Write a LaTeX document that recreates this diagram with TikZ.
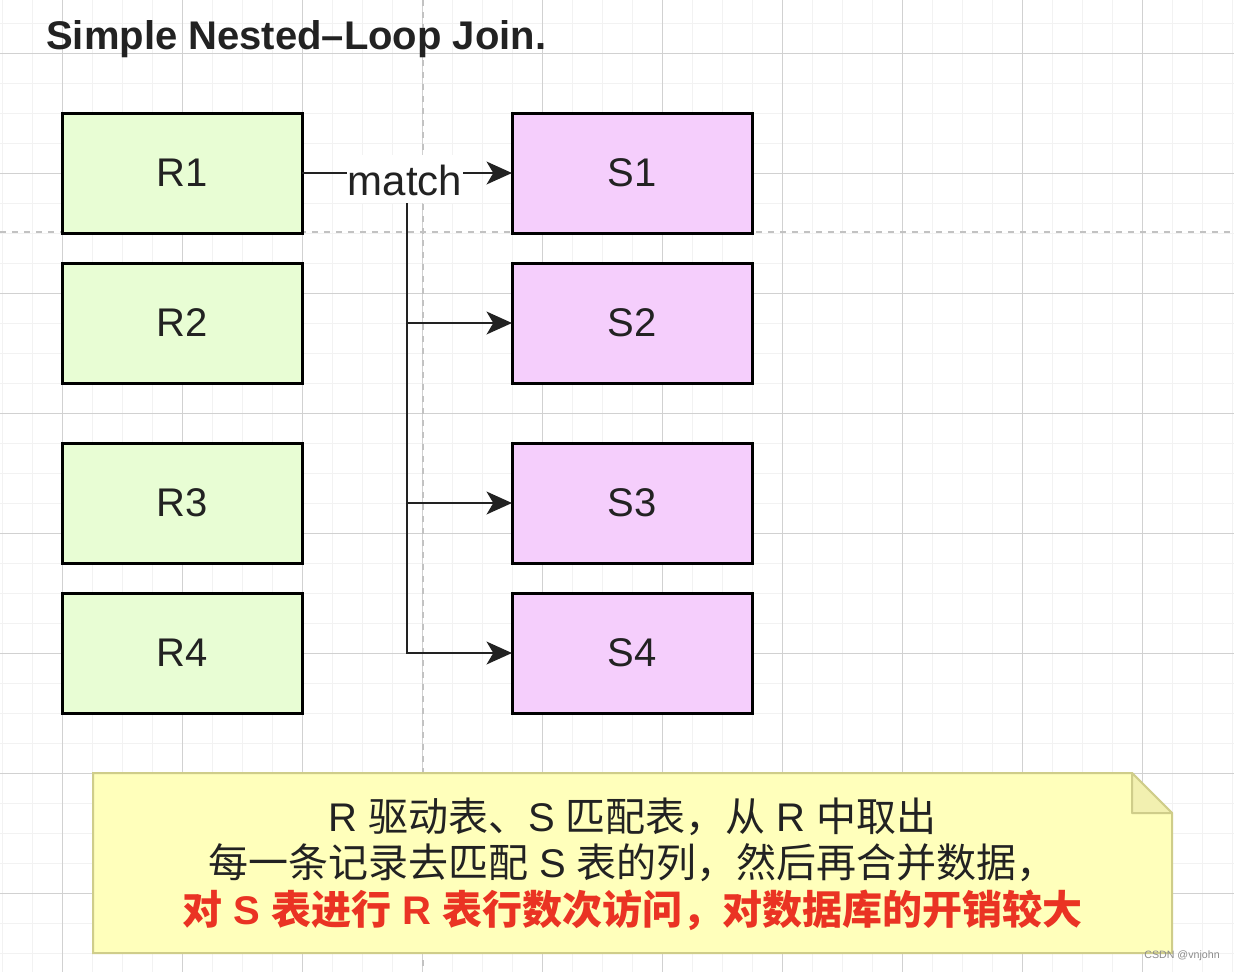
\documentclass[tikz,border=0pt]{standalone}
\usepackage{fontspec}
\setmainfont{Liberation Sans}
\newfontfamily\cjk{Noto Sans CJK SC}
\usepackage{tikz}
\usetikzlibrary{positioning, calc, arrows.meta}

\definecolor{ink}{HTML}{222222}
\definecolor{rfill}{HTML}{E8FDD4}
\definecolor{sfill}{HTML}{F5CEFC}
\definecolor{notefill}{HTML}{FFFFBB}
\definecolor{noteline}{HTML}{CFCD8A}
\definecolor{notefoldfill}{HTML}{F2F0B0}
\definecolor{notered}{HTML}{EA3323}

\begin{document}
\begin{tikzpicture}[
  x=0.75pt, y=-0.75pt,
  font=\fontsize{30}{36}\selectfont,
  gridMinor/.style={draw=black!5, line width=0.75pt},
  gridMajor/.style={draw=black!18, line width=0.75pt},
  pageBreak/.style={draw=black!24, line width=1.1pt, dash pattern=on 4.5pt off 4.5pt},
  table/.style={
    draw=black,
    line width=2.25pt,
    minimum width=180pt,
    minimum height=90pt,
    outer sep=0pt,
    text=ink,
  },
  rtable/.style={table, fill=rfill},
  stable/.style={table, fill=sfill},
  link/.style={draw=ink, line width=2.2pt, -{Stealth[length=19pt, width=17pt, inset=5pt]}},
  linkLabel/.style={fill=white, text=ink, inner xsep=0.5pt, inner ysep=0pt, text height=30pt, text depth=6pt,
    font=\fontsize{31.5}{36}\selectfont},
  notebox/.style={minimum width=809.25pt, minimum height=135pt, inner sep=0pt, outer sep=0pt},
  notetext/.style={align=center, text=ink, font=\fontsize{30}{35}\selectfont},
  credit/.style={text=black!45, font=\fontsize{8}{9}\selectfont, inner sep=0pt},
]
\useasboundingbox[fill=white] (0,0) rectangle (1234,972);
% --- canvas grid ---
\foreach \gx in {2,32,...,1232} \draw[gridMinor] (\gx,0) -- (\gx,972);
\foreach \gy in {23.33,53.33,...,953.33} \draw[gridMinor] (0,\gy) -- (1234,\gy);
\foreach \gx in {62,182,...,1142} \draw[gridMajor] (\gx,0) -- (\gx,972);
\foreach \gy in {53.33,173.33,...,893.33} \draw[gridMajor] (0,\gy) -- (1234,\gy);
\draw[pageBreak] (423,0) -- (423,972);
\draw[pageBreak] (0,232) -- (1234,232);

\node[anchor=base west, inner sep=0pt, text=ink, font=\bfseries\fontsize{30}{36}\selectfont] (title) at (46,49) {Simple Nested--Loop Join.};

% --- R (outer) ---
\node[rtable] (R1) at (182,173) {R1};
\node[rtable, below=22.5pt of R1] (R2) {R2};
\node[rtable, below=45pt of R2] (R3) {R3};
\node[rtable, below=22.5pt of R3] (R4) {R4};

% --- S (inner) ---
\node[stable, right=157.5pt of R1] (S1) {S1};
\node[stable, right=157.5pt of R2] (S2) {S2};
\node[stable, right=157.5pt of R3] (S3) {S3};
\node[stable, right=157.5pt of R4] (S4) {S4};

% each R row is matched against every S row
\draw[link] (R1) -- (S1);
\node[linkLabel] (match) at (405,179) {match};
\coordinate (trunk) at ($(match.south)+(2,0)$);
\draw[link] (trunk) |- (S2.west);
\draw[link] (trunk) |- (S3.west);
\draw[link] (trunk) |- (S4.west);

% --- note ---
\node[notebox] (note) at (632.5,863) {};
\draw[fill=notefill, draw=noteline, line width=1.5pt]
  (note.north west) -- ($(note.north east)+(-40,0)$) -- ($(note.north east)+(0,40)$)
  -- (note.south east) -- (note.south west) -- cycle;
\draw[fill=notefoldfill, draw=noteline, line width=1.5pt, line join=round]
  ($(note.north east)+(-40,0)$) -- ($(note.north east)+(-40,40)$) -- ($(note.north east)+(0,40)$) -- cycle;
\node[notetext] (noteText) at ($(note.center)+(0,1)$) {
  R {\cjk 驱动表、}S {\cjk 匹配表，从} R {\cjk 中取出}\\
  {\cjk 每一条记录去匹配} S {\cjk 表的列，然后再合并数据，}\\
  {\bfseries\color{notered}{\cjk 对} S {\cjk 表进行} R {\cjk 表行数次访问，对数据库的开销较大}}
};
\node[credit, anchor=east] (creditText) at (1220,956) {CSDN @vnjohn};
\end{tikzpicture}
\end{document}
